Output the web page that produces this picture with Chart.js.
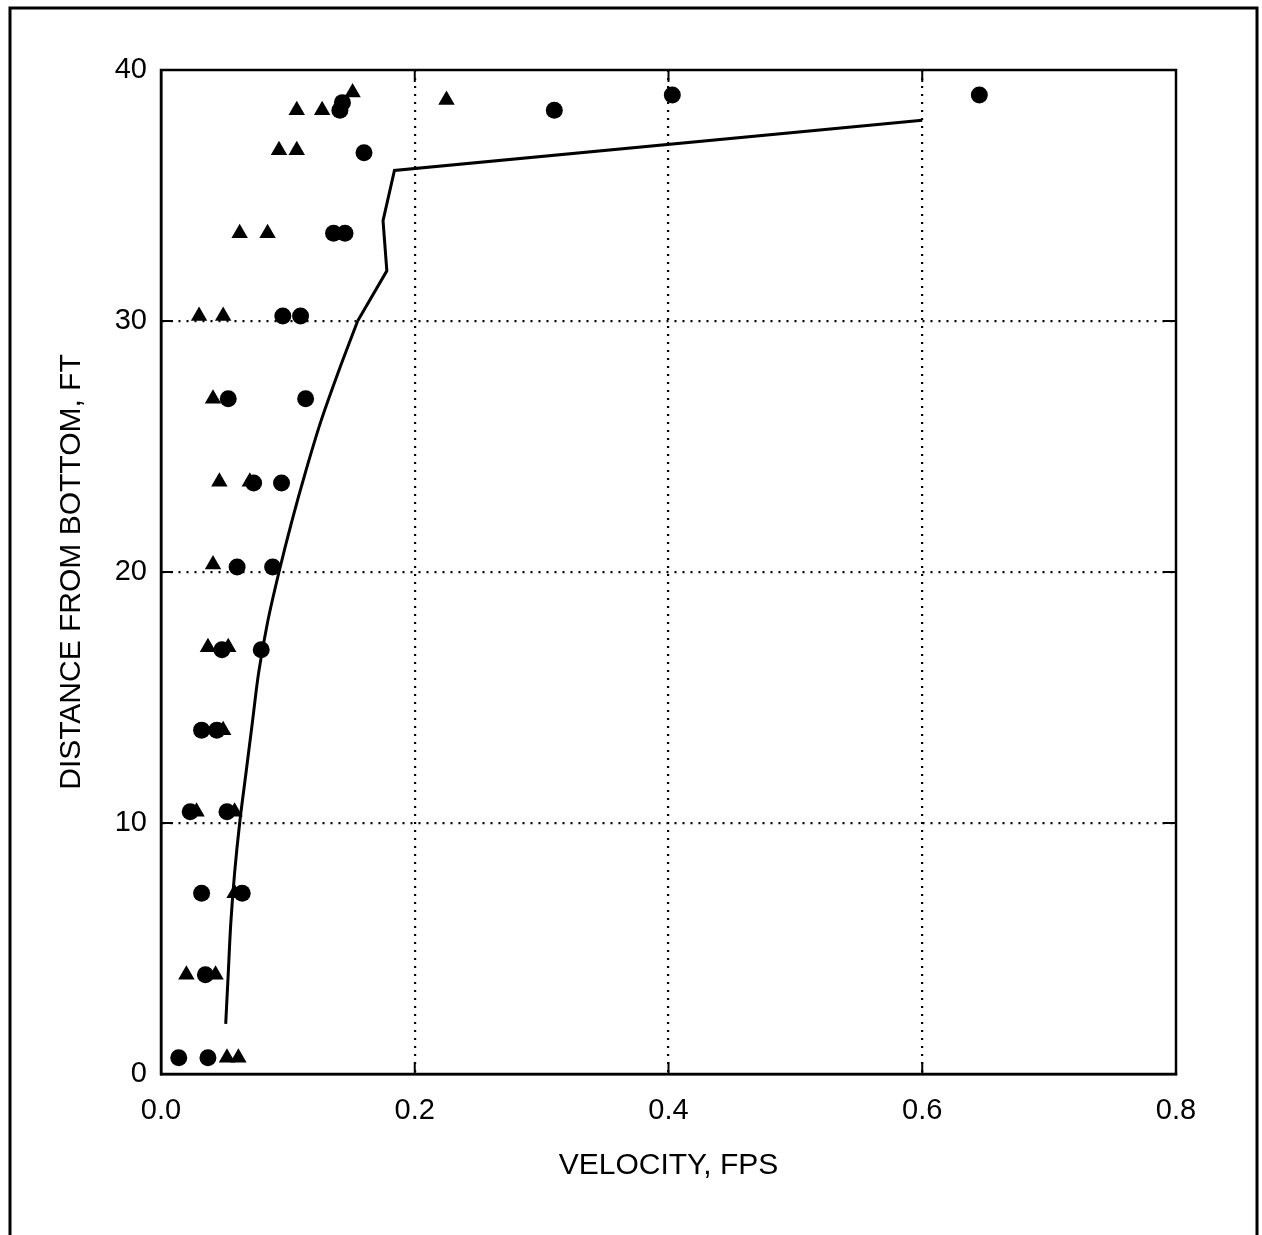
<!DOCTYPE html>
<html>
<head>
<meta charset="utf-8">
<script src="https://cdn.jsdelivr.net/npm/chart.js@4.4.1/dist/chart.umd.min.js"></script>
<style>
  html, body { margin: 0; padding: 0; background: #fff; }
  canvas { display: block; }
</style>
</head>
<body>
<canvas id="c" width="1262" height="1235"></canvas>
<script>
// measured velocity profile, circles and triangles are two sets of readings
const circleVel  = [0.645, 0.403, 0.310, 0.141, 0.143, 0.160, 0.136, 0.145, 0.096, 0.110, 0.053, 0.114, 0.073, 0.095, 0.060, 0.088, 0.048, 0.079, 0.032, 0.044, 0.023, 0.052, 0.032, 0.064, 0.035, 0.014, 0.037];
const circleDist = [39.0, 39.0, 38.4, 38.4, 38.7, 36.7, 33.5, 33.5, 30.2, 30.2, 26.9, 26.9, 23.55, 23.55, 20.2, 20.2, 16.9, 16.9, 13.7, 13.7, 10.45, 10.45, 7.2, 7.2, 3.95, 0.65, 0.65];

const triVel  = [0.151, 0.225, 0.107, 0.127, 0.093, 0.107, 0.062, 0.084, 0.030, 0.049, 0.041, 0.046, 0.070, 0.041, 0.037, 0.053, 0.049, 0.028, 0.058, 0.058, 0.020, 0.043, 0.052, 0.061];
const triDist = [39.1, 38.8, 38.4, 38.4, 36.8, 36.8, 33.5, 33.5, 30.2, 30.2, 26.9, 23.6, 23.6, 20.3, 17.0, 17.0, 13.7, 10.45, 10.45, 7.2, 3.95, 3.95, 0.65, 0.65];

// computed profile: smooth lower part, then the straight pieces near the surface
const curveVel  = [0.051, 0.053, 0.055, 0.058, 0.062, 0.067, 0.072, 0.077, 0.084, 0.093, 0.103, 0.114, 0.126, 0.140, 0.155];
const curveDist = [2, 4, 6, 8, 10, 12, 14, 16, 18, 20, 22, 24, 26, 28, 30];
const topVel  = [0.155, 0.178, 0.175, 0.184, 0.600];
const topDist = [30, 32, 34, 36, 38];

const xTicks = [0, 0.2, 0.4, 0.6, 0.8];
const yTicks = [0, 10, 20, 30, 40];

const toXY = (xs, ys) => xs.map((v, i) => ({ x: v, y: ys[i] }));

const FONT = "'Liberation Sans', Arial, Helvetica, sans-serif";

// outer frame + box around plot + inward tick marks
const framePlugin = {
  id: 'frame',
  afterDraw(chart) {
    const ctx = chart.ctx;
    const a = chart.chartArea;
    const xs = chart.scales.x, ys = chart.scales.y;
    ctx.save();
    ctx.strokeStyle = '#000';
    ctx.lineWidth = 3;
    ctx.beginPath();
    ctx.moveTo(10, 1235);
    ctx.lineTo(10, 8);
    ctx.lineTo(1257, 8);
    ctx.lineTo(1257, 1235);
    ctx.stroke();

    ctx.lineWidth = 2.5;
    ctx.strokeRect(a.left, a.top, a.right - a.left, a.bottom - a.top);

    ctx.lineWidth = 2;
    const len = 12;
    ctx.beginPath();
    xTicks.slice(1, -1).forEach(v => {
      const px = xs.getPixelForValue(v);
      ctx.moveTo(px, a.top); ctx.lineTo(px, a.top + len);
      ctx.moveTo(px, a.bottom); ctx.lineTo(px, a.bottom - len);
    });
    yTicks.slice(1, -1).forEach(v => {
      const py = ys.getPixelForValue(v);
      ctx.moveTo(a.left, py); ctx.lineTo(a.left + len, py);
      ctx.moveTo(a.right, py); ctx.lineTo(a.right - len, py);
    });
    ctx.stroke();
    ctx.restore();
  }
};

const gridColor = (min, max) => (c) =>
  (c.tick && (c.tick.value === min || c.tick.value === max)) ? 'rgba(0,0,0,0)' : '#000';

const lineStyle = {
  type: 'line',
  borderColor: '#000',
  borderWidth: 3,
  pointRadius: 0,
  fill: false
};

new Chart(document.getElementById('c'), {
  type: 'scatter',
  data: {
    datasets: [
      Object.assign({ label: 'computed', data: toXY(curveVel, curveDist), indexAxis: 'y', cubicInterpolationMode: 'monotone' }, lineStyle),
      Object.assign({ label: 'computed top', data: toXY(topVel, topDist), tension: 0 }, lineStyle),
      {
        label: 'circles',
        data: toXY(circleVel, circleDist),
        pointStyle: 'circle',
        pointRadius: 8.5,
        backgroundColor: '#000',
        borderColor: '#000',
        borderWidth: 0
      },
      {
        label: 'triangles',
        data: toXY(triVel, triDist),
        pointStyle: 'triangle',
        pointRadius: 9.5,
        backgroundColor: '#000',
        borderColor: '#000',
        borderWidth: 0
      }
    ]
  },
  options: {
    responsive: false,
    animation: false,
    layout: { padding: { top: 70, right: 86, bottom: 0, left: 0 } },
    plugins: {
      legend: { display: false },
      tooltip: { enabled: false }
    },
    scales: {
      x: {
        type: 'linear',
        min: 0,
        max: 0.8,
        afterFit: (s) => { s.height = 161; },
        afterBuildTicks: (s) => { s.ticks = xTicks.map(v => ({ value: v })); },
        ticks: {
          padding: 20,
          color: '#000',
          font: { family: FONT, size: 29 },
          callback: (v) => Number(v).toFixed(1)
        },
        grid: {
          drawTicks: false,
          color: gridColor(0, 0.8),
          lineWidth: 2.2
        },
        // in v4 border.dash styles the grid lines
        border: { display: true, color: '#000', width: 2.5, dash: [2, 6] },
        title: {
          display: true,
          text: 'VELOCITY, FPS',
          color: '#000',
          font: { family: FONT, size: 30 },
          padding: { top: 0, bottom: 51 }
        }
      },
      y: {
        type: 'linear',
        min: 0,
        max: 40,
        afterFit: (s) => { s.width = 161; },
        afterBuildTicks: (s) => { s.ticks = yTicks.map(v => ({ value: v })); },
        ticks: {
          padding: 14,
          color: '#000',
          font: { family: FONT, size: 29 }
        },
        grid: {
          drawTicks: false,
          color: gridColor(0, 40),
          lineWidth: 2.2
        },
        border: { display: true, color: '#000', width: 2.5, dash: [2, 6] },
        title: {
          display: true,
          text: 'DISTANCE FROM BOTTOM, FT',
          color: '#000',
          font: { family: FONT, size: 30 },
          padding: { top: 54, bottom: 0 }
        }
      }
    }
  },
  plugins: [framePlugin]
});
</script>
</body>
</html>
